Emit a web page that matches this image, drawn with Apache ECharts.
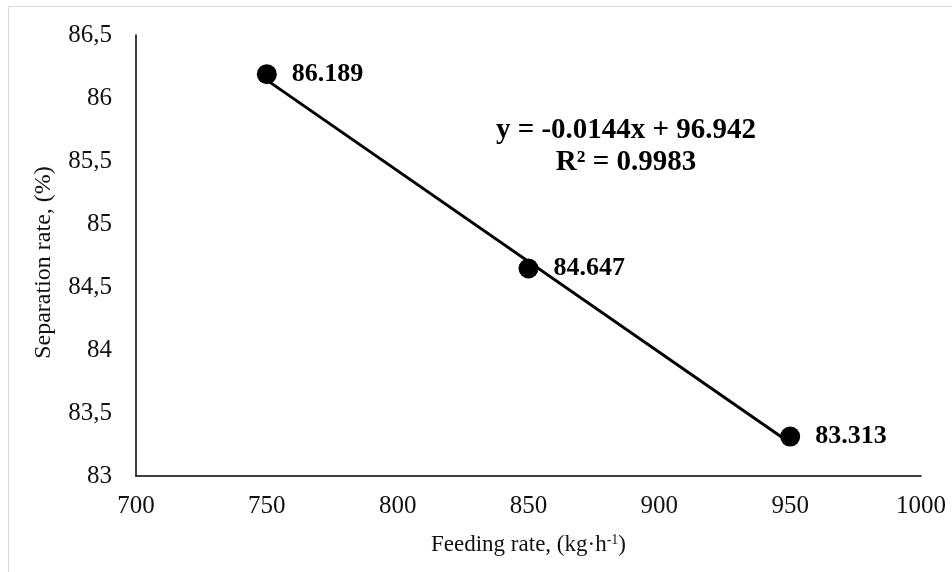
<!DOCTYPE html>
<html>
<head>
<meta charset="utf-8">
<script src="https://cdn.jsdelivr.net/npm/echarts@6/dist/echarts.min.js"></script>
<style>
  html, body { margin: 0; padding: 0; background: #fff; }
  #chart { width: 952px; height: 572px; }
</style>
</head>
<body>
<div id="chart"></div>
<script>
// measured data
const feedRates = [750, 850, 950]
const separation = [86.189, 84.647, 83.313]
// linear trend line end points (y = -0.0144x + 96.942)
const trendX = [750, 950]
const trendY = [86.142, 83.262]
const equationText = 'y = -0.0144x + 96.942\nR² = 0.9983'

const serif = '"Liberation Serif", "DejaVu Serif", serif'
const chart = echarts.init(document.getElementById('chart'))
chart.setOption({
  animation: false,
  grid: { left: 136, top: 35, right: 31, bottom: 96 },
  graphic: [
    {
      type: 'rect',
      shape: { x: 8.5, y: 6.5, width: 950, height: 580 },
      style: { fill: 'none', stroke: '#d9d9d9', lineWidth: 1 },
      silent: true
    },
    {
      type: 'text',
      x: 626, y: 115,
      style: {
        text: equationText,
        font: 'bold 29px ' + serif,
        fill: '#000',
        align: 'center',
        lineHeight: 32
      }
    }
  ],
  xAxis: {
    type: 'value',
    min: 700, max: 1000, interval: 50,
    name: '{n|Feeding rate, (kg·h}{s|-1}{n|)}',
    nameLocation: 'middle',
    nameGap: 57,
    nameTextStyle: {
      rich: {
        n: { fontFamily: serif, fontSize: 23, color: '#111' },
        s: { fontFamily: serif, fontSize: 14, color: '#111', verticalAlign: 'top', padding: [0, 0, 9, 0] }
      }
    },
    axisLine: { show: true, lineStyle: { color: '#000', width: 1.5 } },
    axisTick: { show: false },
    splitLine: { show: false },
    axisLabel: {
      fontFamily: serif, fontSize: 25, color: '#111', margin: 18,
      formatter: v => String(v)
    }
  },
  yAxis: {
    type: 'value',
    min: 83, max: 86.5, interval: 0.5,
    name: 'Separation rate, (%)',
    nameLocation: 'middle',
    nameGap: 80,
    nameTextStyle: { fontFamily: serif, fontSize: 24, color: '#111', padding: [0, 14, 0, 0] },
    axisLine: { show: true, lineStyle: { color: '#000', width: 1.5 } },
    axisTick: { show: false },
    splitLine: { show: false },
    axisLabel: {
      fontFamily: serif, fontSize: 25, color: '#111', margin: 24,
      formatter: v => String(v).replace('.', ',')
    }
  },
  series: [
    {
      name: 'trend',
      type: 'line',
      data: trendX.map((x, i) => [x, trendY[i]]),
      symbol: 'none',
      lineStyle: { color: '#000', width: 3 },
      z: 2
    },
    {
      name: 'Separation rate',
      type: 'scatter',
      data: feedRates.map((x, i) => [x, separation[i]]),
      symbol: 'circle',
      symbolSize: 20,
      itemStyle: { color: '#000', opacity: 1 },
      label: {
        show: true,
        position: 'right',
        distance: 15,
        fontFamily: serif,
        fontWeight: 'bold',
        fontSize: 26,
        color: '#000',
        formatter: p => p.value[1].toFixed(3)
      },
      z: 3
    }
  ]
})
</script>
</body>
</html>
